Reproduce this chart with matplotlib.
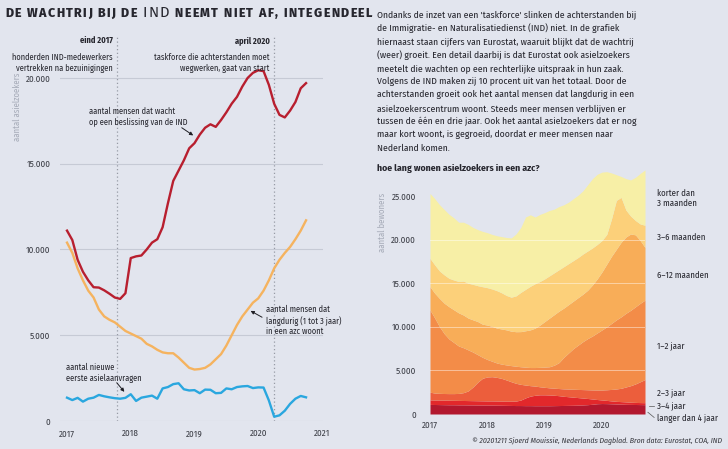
import matplotlib
matplotlib.use("Agg")
import matplotlib.pyplot as plt
import numpy as np
import pandas as pd

plt.rcParams["font.family"] = ["Fira Sans Condensed", "DejaVu Sans"]

W, H = 728, 449
BG = "#e2e5ee"
INK = "#26262e"
GREY = "#a6abb8"

# maanden jan 2017 - okt 2020
months = pd.date_range("2017-01-01", periods=46, freq="MS")
t = months.year + (months.month - 1) / 12

# linkergrafiek
wachtend = [11100, 10550, 9400, 8700, 8200, 7800, 7780, 7620, 7420, 7200,
            7120, 7450, 9500, 9600, 9650, 10000, 10400, 10600, 11300, 12700,
            14000, 14600, 15200, 15900, 16200, 16700, 17100, 17300, 17150, 17550,
            18000, 18500, 18900, 19500, 20000, 20300, 20450, 20400, 19600, 18500,
            17850, 17700, 18100, 18600, 19400, 19700]
langdurig = [10400, 9800, 8900, 8200, 7600, 7200, 6500, 6100, 5900, 5750,
             5500, 5250, 5100, 4950, 4800, 4500, 4350, 4150, 4000, 3950,
             3950, 3700, 3400, 3100, 3000, 3030, 3100, 3300, 3600, 3900,
             4400, 5000, 5600, 6100, 6500, 6900, 7150, 7600, 8200, 8900,
             9400, 9800, 10150, 10600, 11100, 11700]
aanvragen = [1360, 1220, 1350, 1130, 1300, 1360, 1520, 1440, 1380, 1330,
             1300, 1350, 1560, 1170, 1360, 1420, 1480, 1300, 1900, 1980,
             2150, 2200, 1850, 1780, 1800, 1620, 1830, 1820, 1620, 1640,
             1900, 1850, 1980, 2020, 2040, 1920, 1960, 1950, 1200, 250,
             330, 600, 1000, 1300, 1460, 1380]

# rechtergrafiek: opgestapelde totalen (bovenkant van elke laag)
cum_langer_4 = [1100, 1090, 1080, 1070, 1060, 1060, 1050, 1050, 1040, 1040,
                1030, 1030, 1020, 1020, 1010, 1000, 990, 980, 970, 970,
                960, 960, 950, 950, 950, 950, 960, 970, 980, 990,
                1000, 1020, 1040, 1070, 1120, 1180, 1200, 1190, 1170, 1150,
                1130, 1110, 1100, 1090, 1080, 1070]
cum_3_4 = [1620, 1600, 1600, 1590, 1580, 1570, 1560, 1550, 1540, 1530,
           1520, 1510, 1500, 1500, 1490, 1480, 1470, 1470, 1480, 1600,
           1850, 2050, 2150, 2200, 2200, 2180, 2150, 2100, 2030, 1980,
           1930, 1880, 1830, 1780, 1720, 1660, 1610, 1560, 1500, 1450,
           1420, 1390, 1350, 1330, 1310, 1300]
cum_2_3 = [2500, 2400, 2370, 2350, 2340, 2340, 2360, 2450, 2650, 3100,
           3650, 4100, 4250, 4280, 4200, 4080, 3900, 3700, 3520, 3400,
           3320, 3250, 3200, 3120, 3060, 3000, 2960, 2920, 2880, 2860,
           2840, 2820, 2800, 2780, 2760, 2750, 2750, 2780, 2820, 2870,
           2950, 3100, 3250, 3450, 3700, 3950]
cum_1_2 = [11930, 11000, 10000, 9200, 8600, 8200, 7800, 7600, 7350, 7100,
           6800, 6500, 6250, 6050, 5850, 5720, 5630, 5550, 5480, 5420,
           5370, 5330, 5330, 5350, 5380, 5420, 5600, 5900, 6500, 7000,
           7500, 7900, 8300, 8650, 8950, 9300, 9650, 10000, 10400, 10800,
           11150, 11550, 11900, 12300, 12700, 13070]
cum_6_12 = [14600, 13850, 13250, 12700, 12300, 11950, 11600, 11350, 11000, 10800,
            10600, 10300, 10200, 10050, 9850, 9750, 9650, 9500, 9440, 9450,
            9550, 9650, 9850, 10200, 10600, 11000, 11400, 11800, 12150, 12550,
            12950, 13350, 13750, 14200, 14800, 15500, 16300, 17200, 18100, 18900,
            19700, 20300, 20650, 20550, 19900, 19100]
cum_3_6 = [17850, 17100, 16400, 15950, 15560, 15370, 15200, 15250, 15000, 14870,
           14720, 14600, 14490, 14340, 14150, 13900, 13600, 13400, 13550, 13950,
           14300, 14650, 14950, 15200, 15500, 15850, 16200, 16550, 16900, 17250,
           17600, 17950, 18350, 18700, 19050, 19450, 19900, 20600, 22400, 24500,
           24850, 23400, 22700, 22200, 21800, 21650]
cum_korter_3 = [25300, 24700, 24000, 23450, 22900, 22500, 22000, 22000, 21750, 21400,
                21150, 20950, 20800, 20600, 20450, 20350, 20250, 20200, 20650, 21400,
                22600, 22850, 22600, 22900, 23100, 23350, 23500, 23800, 24000, 24300,
                24700, 25100, 25600, 26300, 27000, 27500, 27750, 27800, 27650, 27450,
                27250, 27000, 26850, 27150, 27600, 28000]

layer_labels = ["langer dan 4 jaar", "3–4 jaar", "2–3 jaar", "1–2 jaar",
                "6–12 maanden", "3–6 maanden", "korter dan\n3 maanden"]
layer_colors = ["#b2182e", "#e2282b", "#ec5e3c", "#f38c48",
                "#f8ad58", "#fcd07a", "#f7efa6"]

left_ticks = [0, 5000, 10000, 15000, 20000]
right_ticks = [0, 5000, 10000, 15000, 20000, 25000]
years_left = [2017, 2018, 2019, 2020, 2021]
years_right = [2017, 2018, 2019, 2020]


def fmt(v):
    return f"{v:,}".replace(",", ".")


def fx(px):
    return px / W


def fy(py):
    return 1 - py / H


fig = plt.figure(figsize=(W / 100, H / 100), dpi=100, facecolor=BG)
renderer = fig.canvas.get_renderer()


def fit_text(txt, width_px):
    fs = txt.get_fontsize()
    w = txt.get_window_extent(renderer).width
    txt.set_fontsize(fs * width_px / w)


# titel met ruime letterafstand
title_parts = [("DE WACHTRIJ BIJ DE ", "heavy", 9.0), ("IND", "normal", 10.6),
               (" NEEMT NIET AF, INTEGENDEEL", "heavy", 9.0)]
chars = []
for part, weight, size in title_parts:
    for ch in part:
        chars.append((ch, weight, size))
probe = fig.text(0, 0, "I", fontsize=9, weight="heavy", family="Fira Sans")
adv = []
for ch, weight, size in chars:
    probe.set_fontsize(size)
    probe.set_fontweight(weight)
    probe.set_text("I" + ch + "I")
    w3 = probe.get_window_extent(renderer).width
    probe.set_text("II")
    w2 = probe.get_window_extent(renderer).width
    adv.append(w3 - w2)
probe.remove()
track = (367 - sum(adv)) / (len(chars) - 1)
x = 5.0
for (ch, weight, size), a in zip(chars, adv):
    if ch != " ":
        fig.text(fx(x), fy(13), ch, fontsize=size, weight=weight, family="Fira Sans",
                 color=INK, va="center", ha="left")
    x += a + track

# ---------------- linkergrafiek ----------------
ax1 = fig.add_axes([fx(60), fy(421), fx(263), 384 / H])
ax1.set_facecolor("none")
ax1.set_xlim(2016.89, 2021.016)
ax1.set_ylim(0, 22390)
for v in left_ticks:
    ax1.axhline(v, color="#c6cad5", lw=0.8, zorder=1)
for xv in (2017.79, 2020.24):
    ax1.axvline(xv, color="#979ba6", lw=0.9, ls=(0, (1, 2)), zorder=1)
ax1.plot(t, wachtend, color="#b81f2f", lw=1.7, zorder=3, solid_joinstyle="round")
ax1.plot(t, langdurig, color="#f5b35f", lw=1.7, zorder=3, solid_joinstyle="round")
ax1.plot(t, aanvragen, color="#2aa7df", lw=1.7, zorder=3, solid_joinstyle="round")
ax1.set_yticks(left_ticks, [fmt(v) for v in left_ticks])
ax1.set_xticks(years_left, [str(y) for y in years_left])
ax1.tick_params(length=0, labelsize=6.5, colors="#3a3c44")
ax1.tick_params(axis="y", pad=7)
ax1.tick_params(axis="x", pad=6)
for s in ax1.spines.values():
    s.set_visible(False)

fig.text(fx(17), fy(107), "aantal asielzoekers", rotation=90, fontsize=6.2,
         color=GREY, ha="center", va="center")

ann = dict(fontsize=6.0, color=INK, clip_on=False)
ax1.text(2017.72, 22200, "eind 2017", ha="right", va="center", weight="bold", **ann)
ax1.text(2017.72, 21450, "honderden IND-medewerkers\nvertrekken na bezuinigingen",
         ha="right", va="top", linespacing=1.2, **ann)
ax1.text(2020.18, 22200, "april 2020", ha="right", va="center", weight="bold", **ann)
ax1.text(2020.18, 21450, "taskforce die achterstanden moet\nwegwerken, gaat van start",
         ha="right", va="top", linespacing=1.2, **ann)

ax1.text(2017.345, 18300, "aantal mensen dat wacht\nop een beslissing van de IND",
         ha="left", va="top", linespacing=1.2, **ann)
ax1.text(2020.12, 6750, "aantal mensen dat\nlangdurig (1 tot 3 jaar)\nin een azc woont",
         ha="left", va="top", linespacing=1.2, **ann)
ax1.text(2016.984, 3370, "aantal nieuwe\neerste asielaanvragen",
         ha="left", va="top", linespacing=1.2, **ann)

arrow = dict(arrowstyle="-|>", color="#1e1e24", lw=0.7, mutation_scale=5,
             shrinkA=0, shrinkB=0)
ax1.annotate("", xy=(2018.98, 16650), xytext=(2018.80, 17100), arrowprops=arrow)
ax1.annotate("", xy=(2019.88, 6420), xytext=(2020.06, 6050), arrowprops=arrow)
ax1.annotate("", xy=(2017.90, 1700), xytext=(2017.78, 2230), arrowprops=arrow)

# ---------------- tekst rechts ----------------
body = ["Ondanks de inzet van een 'taskforce' slinken de achterstanden bij",
        "de Immigratie- en Naturalisatiedienst (IND) niet. In de grafiek",
        "hiernaast staan cijfers van Eurostat, waaruit blijkt dat de wachtrij",
        "(weer) groeit. Een detail daarbij is dat Eurostat ook asielzoekers",
        "meetelt die wachten op een rechterlijke uitspraak in hun zaak.",
        "Volgens de IND maken zij 10 procent uit van het totaal. Door de",
        "achterstanden groeit ook het aantal mensen dat langdurig in een",
        "asielzoekerscentrum woont. Steeds meer mensen verblijven er",
        "tussen de één en drie jaar. Ook het aantal asielzoekers dat er nog",
        "maar kort woont, is gegroeid, doordat er meer mensen naar",
        "Nederland komen."]
first = fig.text(fx(377), fy(15), body[0], fontsize=7, color=INK, va="center")
fit_text(first, 260)
bfs = first.get_fontsize()
for i, line in enumerate(body[1:], start=1):
    fig.text(fx(377), fy(15 + i * 13.3), line, fontsize=bfs, color=INK, va="center")

sub = fig.text(fx(377), fy(168), "hoe lang wonen asielzoekers in een azc?",
               fontsize=7, weight="bold", color=INK, va="center")
fit_text(sub, 161)

# ---------------- rechtergrafiek ----------------
ax2 = fig.add_axes([fx(430), fy(414), fx(215), 244 / H])
ax2.set_facecolor("none")
ax2.set_xlim(2017, 2020.75)
ax2.set_ylim(0, 27990)
bounds = [np.zeros(len(t)), cum_langer_4, cum_3_4, cum_2_3, cum_1_2,
          cum_6_12, cum_3_6, cum_korter_3]
for i, col in enumerate(layer_colors):
    ax2.fill_between(t, bounds[i], bounds[i + 1], color=col, lw=0, zorder=2)
for v in right_ticks[1:-1]:
    ax2.axhline(v, color="white", lw=0.7, alpha=0.45, zorder=3)
ax2.set_yticks(right_ticks, [fmt(v) for v in right_ticks])
ax2.set_xticks(years_right, [str(y) for y in years_right])
ax2.tick_params(length=0, labelsize=6.5, colors="#3a3c44")
ax2.tick_params(axis="y", pad=10)
ax2.tick_params(axis="x", pad=5)
for s in ax2.spines.values():
    s.set_visible(False)

fig.text(fx(382), fy(222), "aantal bewoners", rotation=90, fontsize=6.2,
         color=GREY, ha="center", va="center")

# labels bij de lagen (van onder naar boven)
label_y = [-460, 920, 2520, 7900, 15940, 20300, 24780]
for lab, yv in zip(layer_labels, label_y):
    ax2.text(2020.96, yv, lab, fontsize=6.3, color=INK, va="center", ha="left",
             linespacing=1.15, clip_on=False)
ax2.plot([2020.82, 2020.91], [920, 920], color="#555", lw=0.5, clip_on=False)
ax2.plot([2020.80, 2020.91], [200, -400], color="#555", lw=0.5, clip_on=False)

credit = fig.text(fx(722), fy(441),
                  "© 20201211 Sjoerd Mouissie, Nederlands Dagblad. Bron data: Eurostat, COA, IND",
                  fontsize=5.5, style="italic", color="#33343a", ha="right", va="center")
fit_text(credit, 252)

fig.savefig("out.png", dpi=100, facecolor=BG)
